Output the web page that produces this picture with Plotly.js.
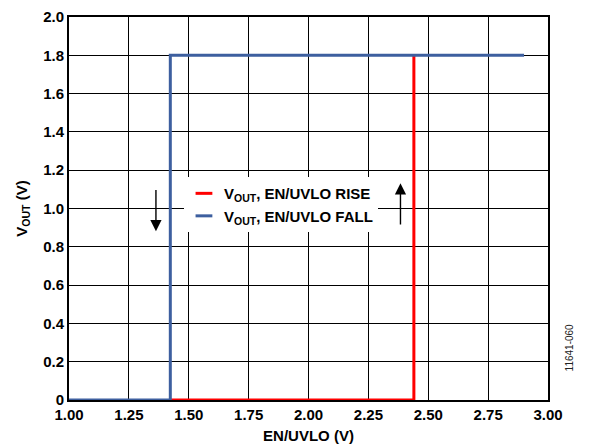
<!DOCTYPE html>
<html>
<head>
<meta charset="utf-8">
<script src="https://cdn.plot.ly/plotly-3.0.1.min.js"></script>
<style>html,body{margin:0;padding:0;background:#fff;}</style>
</head>
<body>
<div id="chart" style="width:590px;height:447px;"></div>
<script>
// Data
var riseX = [1.42, 2.44, 2.44];
var riseY = [0, 0, 1.8];
var fallX = [2.90, 1.423, 1.423, 1.00];
var fallY = [1.8, 1.8, 0, 0];
var xTickVals = [1.00, 1.25, 1.50, 1.75, 2.00, 2.25, 2.50, 2.75, 3.00];
var xTickText = ["1.00", "1.25", "1.50", "1.75", "2.00", "2.25", "2.50", "2.75", "3.00"];
var yTickVals = [0, 0.2, 0.4, 0.6, 0.8, 1.0, 1.2, 1.4, 1.6, 1.8, 2.0];
var yTickText = ["0", "0.2", "0.4", "0.6", "0.8", "1.0", "1.2", "1.4", "1.6", "1.8", "2.0"];
var riseName = "V<sub>OUT</sub>, EN/UVLO RISE";
var fallName = "V<sub>OUT</sub>, EN/UVLO FALL";
var riseColor = "#ff0000";
var fallColor = "#3d5f9f";
var downArrow = {x: 1.363, yFrom: 1.105, yTo: 0.881};
var upArrow = {x: 2.384, yFrom: 0.909, yTo: 1.132};
var figureId = "11641-060";

var font = "Liberation Sans, Arial, sans-serif";
var boldFont = {family: font, size: 15, color: "#000", weight: "bold"};

var traces = [
  {x: riseX, y: riseY, mode: "lines", name: riseName, showlegend: false,
   line: {color: riseColor, width: 3}},
  {x: fallX, y: fallY, mode: "lines", name: fallName, showlegend: false,
   line: {color: fallColor, width: 3}},
  // legend entries with a short dash symbol
  {x: [null], y: [null], mode: "markers", name: riseName, showlegend: true,
   marker: {symbol: "line-ew-open", size: 12, color: riseColor, line: {color: riseColor, width: 3}}},
  {x: [null], y: [null], mode: "markers", name: fallName, showlegend: true,
   marker: {symbol: "line-ew-open", size: 12, color: fallColor, line: {color: fallColor, width: 3}}}
];

var layout = {
  width: 590, height: 447,
  margin: {l: 68.5, r: 41.5, t: 16.7, b: 47.3},
  paper_bgcolor: "#fff", plot_bgcolor: "#fff",
  font: {family: font, size: 15, color: "#000"},
  showlegend: true,
  legend: {
    x: 0.24, y: 0.582, xanchor: "left", yanchor: "top",
    bgcolor: "#fff", borderwidth: 0,
    font: boldFont,
    tracegroupgap: 0, itemwidth: 30
  },
  xaxis: {
    range: [1, 3], tickvals: xTickVals, ticktext: xTickText,
    showgrid: true, gridcolor: "#000", gridwidth: 1,
    showline: true, linecolor: "#000", linewidth: 2, mirror: true,
    zeroline: false, ticks: "", ticklen: 0,
    tickfont: boldFont,
    title: {text: "EN/UVLO (V)", standoff: 8, font: boldFont}
  },
  yaxis: {
    range: [0, 2], tickvals: yTickVals, ticktext: yTickText,
    showgrid: true, gridcolor: "#000", gridwidth: 1,
    showline: true, linecolor: "#000", linewidth: 2, mirror: true,
    zeroline: false, ticks: "", ticklen: 0,
    tickfont: boldFont,
    title: {text: "V<sub>OUT</sub> (V)", standoff: 12, font: boldFont}
  },
  annotations: [
    {x: downArrow.x, y: downArrow.yTo, ax: downArrow.x, ay: downArrow.yFrom,
     xref: "x", yref: "y", axref: "x", ayref: "y", text: "", showarrow: true,
     arrowhead: 2, arrowsize: 1.6, arrowwidth: 1.4, arrowcolor: "#000"},
    {x: upArrow.x, y: upArrow.yTo, ax: upArrow.x, ay: upArrow.yFrom,
     xref: "x", yref: "y", axref: "x", ayref: "y", text: "", showarrow: true,
     arrowhead: 2, arrowsize: 1.6, arrowwidth: 1.4, arrowcolor: "#000"},
    {x: 1.06, y: 0.07, xref: "paper", yref: "paper", text: figureId,
     showarrow: false, textangle: -90,
     font: {family: font, size: 10, color: "#222"}}
  ]
};

Plotly.newPlot("chart", traces, layout, {displayModeBar: false, staticPlot: true});
</script>
</body>
</html>
